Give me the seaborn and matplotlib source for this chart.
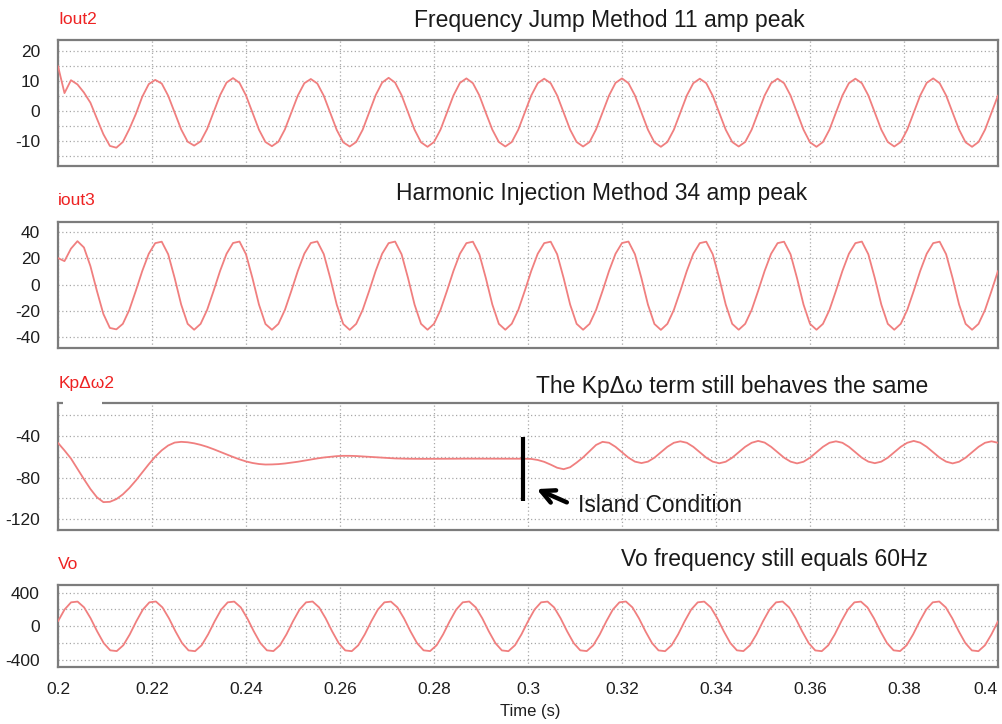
import numpy as np
import pandas as pd
import matplotlib
matplotlib.use("Agg")
import matplotlib.pyplot as plt
from matplotlib.patches import Rectangle
import seaborn as sns

# ---------------- data ----------------
# sample instants (s)
t_main = np.linspace(0.2, 0.4, 146)
t_vo = np.linspace(0.2, 0.4, 145)

iout2 = [
    15.0, 6.0, 10.3, 8.9, 6.2, 2.8, -2.5, -7.7, -11.6, -12.2, -10.3, -6.0,
    -1.0, 4.8, 9.0, 10.4, 9.2, 5.1, -0.5, -6.1, -10.2, -11.5, -10.1, -6.0,
    -0.4, 5.3, 9.5, 11.0, 9.4, 5.2, -0.5, -6.2, -10.3, -11.7, -10.2, -6.1,
    -0.5, 5.2, 9.3, 10.7, 9.2, 5.1, -0.6, -6.3, -10.4, -11.8, -10.3, -6.2,
    -0.5, 5.3, 9.5, 11.1, 9.5, 5.3, -0.5, -6.2, -10.4, -11.9, -10.3, -6.2,
    -0.5, 5.2, 9.4, 10.9, 9.3, 5.2, -0.6, -6.2, -10.3, -11.8, -10.3, -6.2,
    -0.5, 5.2, 9.3, 10.8, 9.3, 5.2, -0.5, -6.2, -10.3, -11.8, -10.3, -6.1,
    -0.5, 5.2, 9.4, 10.9, 9.3, 5.2, -0.5, -6.2, -10.4, -11.9, -10.3, -6.2,
    -0.5, 5.2, 9.3, 10.8, 9.3, 5.1, -0.6, -6.2, -10.3, -11.8, -10.3, -6.2,
    -0.5, 5.2, 9.3, 10.8, 9.3, 5.2, -0.5, -6.2, -10.4, -11.9, -10.3, -6.2,
    -0.5, 5.2, 9.3, 10.8, 9.3, 5.2, -0.5, -6.2, -10.3, -11.8, -10.3, -6.2,
    -0.5, 5.2, 9.4, 10.9, 9.3, 5.2, -0.5, -6.2, -10.4, -11.9, -10.3, -6.2,
    -0.5, 5.2,
]

iout3 = [
    20.3, 18.0, 27.5, 33.2, 28.4, 14.2, -4.7, -22.3, -32.9, -34.0, -29.8, -19.2,
    -4.7, 10.5, 23.6, 31.7, 32.8, 23.2, 5.0, -15.1, -29.8, -34.3, -29.8, -19.2,
    -4.7, 10.5, 23.6, 31.8, 32.9, 23.2, 5.0, -15.1, -29.9, -34.3, -29.8, -19.2,
    -4.6, 10.6, 23.7, 31.8, 33.0, 23.3, 5.0, -15.2, -29.9, -34.4, -29.8, -19.1,
    -4.7, 10.5, 23.6, 31.7, 32.9, 23.2, 5.0, -15.1, -29.8, -34.3, -29.8, -19.2,
    -4.7, 10.5, 23.6, 31.7, 32.8, 23.2, 5.0, -15.1, -29.8, -34.3, -29.7, -19.2,
    -4.7, 10.5, 23.6, 31.7, 32.8, 23.2, 5.0, -15.1, -29.8, -34.3, -29.8, -19.2,
    -4.7, 10.5, 23.6, 31.8, 32.9, 23.2, 5.0, -15.1, -29.9, -34.4, -29.8, -19.2,
    -4.7, 10.5, 23.6, 31.7, 32.8, 23.2, 5.0, -15.1, -29.8, -34.3, -29.8, -19.2,
    -4.7, 10.5, 23.6, 31.7, 32.8, 23.2, 5.0, -15.1, -29.8, -34.3, -29.8, -19.2,
    -4.7, 10.5, 23.6, 31.7, 32.9, 23.2, 5.0, -15.1, -29.8, -34.3, -29.8, -19.2,
    -4.7, 10.5, 23.6, 31.7, 32.8, 23.2, 5.0, -15.1, -29.8, -34.3, -29.8, -19.2,
    -4.7, 10.5,
]

kp_dw2 = [
    -46.5, -53.8, -61.6, -71.6, -81.5, -91.0, -99.0, -103.7, -103.4, -100.8, -96.2, -90.1,
    -82.9, -75.0, -67.1, -59.8, -53.7, -49.0, -46.2, -45.5, -45.9, -46.9, -48.4, -50.3,
    -52.6, -55.1, -57.7, -60.1, -62.4, -64.4, -65.9, -66.9, -67.4, -67.3, -67.0, -66.4,
    -65.6, -64.7, -63.6, -62.6, -61.5, -60.6, -59.9, -59.3, -59.0, -59.0, -59.2, -59.6,
    -60.1, -60.5, -60.9, -61.2, -61.5, -61.7, -61.8, -61.9, -61.9, -61.9, -61.9, -61.8,
    -61.8, -61.8, -61.7, -61.7, -61.7, -61.7, -61.7, -61.7, -61.7, -61.7, -61.7, -61.7,
    -61.8, -62.0, -63.0, -64.8, -67.5, -70.5, -71.9, -70.0, -65.5, -60.5, -54.5, -48.5,
    -45.5, -46.4, -50.3, -55.5, -60.8, -64.6, -66.0, -64.6, -60.8, -55.5, -50.3, -46.4,
    -45.0, -46.4, -50.3, -55.5, -60.8, -64.6, -66.2, -64.7, -60.8, -55.5, -50.3, -46.4,
    -44.6, -46.2, -50.3, -55.5, -60.8, -64.6, -66.3, -64.7, -60.8, -55.5, -50.3, -46.4,
    -45.0, -46.4, -50.3, -55.5, -60.8, -64.6, -66.1, -64.6, -60.8, -55.5, -50.3, -46.4,
    -44.6, -46.3, -50.3, -55.5, -60.8, -64.6, -66.3, -64.7, -60.8, -55.5, -50.3, -46.4,
    -45.0, -46.4,
]

vo = [
    60, 199, 285, 294, 225, 95, -60, -199, -285, -294, -225, -95,
    60, 199, 285, 295, 225, 95, -60, -199, -286, -295, -225, -95,
    60, 199, 285, 294, 225, 95, -60, -199, -285, -294, -225, -95,
    60, 199, 285, 295, 225, 95, -60, -199, -286, -295, -225, -95,
    60, 199, 285, 294, 225, 95, -60, -199, -285, -294, -225, -95,
    60, 199, 285, 295, 225, 95, -60, -199, -286, -295, -225, -95,
    60, 199, 285, 294, 225, 95, -60, -199, -285, -294, -225, -95,
    60, 199, 285, 295, 225, 95, -60, -199, -286, -295, -225, -95,
    60, 199, 285, 294, 225, 95, -60, -199, -285, -294, -225, -95,
    60, 199, 285, 295, 225, 95, -60, -199, -286, -295, -225, -95,
    60, 199, 285, 294, 225, 95, -60, -199, -285, -294, -225, -95,
    60, 199, 285, 295, 225, 95, -60, -199, -286, -295, -225, -95,
    60,
]

x_ticks = [0.2, 0.22, 0.24, 0.26, 0.28, 0.3, 0.32, 0.34, 0.36, 0.38, 0.4]
x_tick_labels = ["0.2", "0.22", "0.24", "0.26", "0.28", "0.3", "0.32",
                 "0.34", "0.36", "0.38", "0.4"]

series_names = ["Iout2", "iout3", "Kp\u0394\u03c92", "Vo"]
panel_titles = ["Frequency Jump Method 11 amp peak",
                "Harmonic Injection Method 34 amp peak",
                "The Kp\u0394\u03c9 term still behaves the same",
                "Vo frequency still equals 60Hz"]

y_major = [[20, 10, 0, -10], [40, 20, 0, -20, -40], [-40, -80, -120], [400, 0, -400]]
y_minor = [[15, 5, -5, -15], [], [-20, -60, -100], [200, -200]]
y_limits = [(-18.3, 23.7), (-48.2, 47.8), (-130.6, -8.0), (-483, 491)]

island_time = 0.2989
island_span = (-41, -103)

# ---------------- figure ----------------
sns.set_theme(style="white")
plt.rcParams["font.family"] = ["Liberation Sans", "DejaVu Sans"]
plt.rcParams["axes.unicode_minus"] = False

W, H = 1003, 724
fig = plt.figure(figsize=(W / 100, H / 100), dpi=100)
fig.patch.set_facecolor("white")

def fx(px):
    return px / W

def fy(py):
    return 1 - py / H

# axes boxes in pixels: (top, bottom)
boxes = [(40, 166), (222, 348), (403, 530), (585, 667)]
left_px, right_px = 58, 998

times = [t_main, t_main, t_main, t_vo]
values = [iout2, iout3, kp_dw2, vo]
line_color = "#f07f7f"
grid_kw = dict(color="#a8a8a8", linestyle=(0, (1, 2)), linewidth=0.9)

axes = []
for i, (top, bot) in enumerate(boxes):
    ax = fig.add_axes([fx(left_px), fy(bot), fx(right_px - left_px), (bot - top) / H])
    df = pd.DataFrame({"t": times[i], "v": values[i]})
    sns.lineplot(data=df, x="t", y="v", ax=ax, color=line_color, linewidth=1.3,
                 errorbar=None, zorder=3)
    ax.set_xlim(0.2, 0.4)
    ax.set_ylim(*y_limits[i])
    ax.set_yticks(y_major[i], labels=[str(v) for v in y_major[i]])
    ax.set_yticks(y_minor[i], minor=True)
    ax.set_xticks(x_ticks)
    if i == 3:
        ax.set_xticklabels(x_tick_labels)
        ax.get_xticklabels()[-1].set_horizontalalignment("right")
    else:
        ax.set_xticklabels([])
    ax.grid(True, which="both", axis="y", **grid_kw)
    ax.grid(True, which="major", axis="x", **grid_kw)
    ax.set_axisbelow(True)
    ax.tick_params(axis="both", which="both", length=0, labelsize=12.5,
                   colors="#1e1e1e")
    ax.tick_params(axis="y", pad=13)
    ax.tick_params(axis="x", pad=11)
    ax.set_xlabel("")
    ax.set_ylabel("")
    for sp in ax.spines.values():
        sp.set_color("#7c7c7c")
        sp.set_linewidth(1.6)
    axes.append(ax)

# series names (red) and titles
name_pos = [(58, 24), (58, 205), (59, 388), (58, 569)]
for (x, y), name in zip(name_pos, series_names):
    fig.text(fx(x), fy(y), name, color="#ee2222", fontsize=12.5,
             ha="left", va="baseline")

title_pos = [(609, 27), (602, 200), (732, 393), (774, 566)]
for (x, y), title in zip(title_pos, panel_titles):
    fig.text(fx(x), fy(y), title, color="#1a1a1a", fontsize=16.5,
             ha="center", va="baseline")

# gap in the top border of the third panel behind its label
fig.add_artist(Rectangle((fx(63), fy(406)), fx(39), 6 / H,
                         transform=fig.transFigure, facecolor="white",
                         edgecolor="none", zorder=10))

# island condition marker
ax3 = axes[2]
ax3.vlines(island_time, island_span[1], island_span[0], color="black",
           linewidth=3, zorder=5)
ax3.annotate("", xy=(0.3013, -90.0), xytext=(0.3088, -105.0),
             arrowprops=dict(arrowstyle="->", lw=3.2, color="black",
                             mutation_scale=24), zorder=5)
fig.text(fx(660), fy(511.7), "Island Condition", color="#1a1a1a",
         fontsize=16.5, ha="center", va="baseline")

fig.text(fx(530), fy(716), "Time (s)", color="#1e1e1e", fontsize=12,
         ha="center", va="baseline")

fig.savefig("out.png", dpi=100, facecolor="white")
